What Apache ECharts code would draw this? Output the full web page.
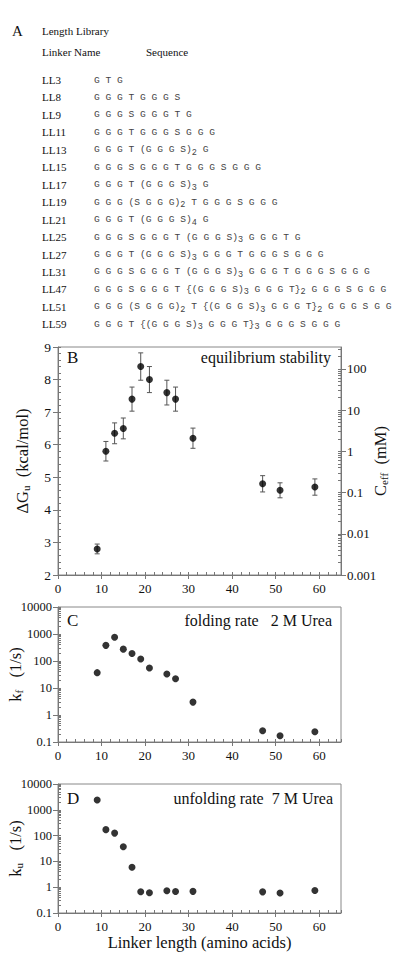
<!DOCTYPE html>
<html><head><meta charset="utf-8">
<script src="https://cdn.jsdelivr.net/npm/echarts@6/dist/echarts.min.js"></script>
<style>html,body{margin:0;padding:0;background:#fff}#c{width:410px;height:960px}</style>
</head><body><div id="c"></div>
<script>
// ---------- Panel A: length library ----------
const linkerNames = ['LL3','LL8','LL9','LL11','LL13','LL15','LL17','LL19','LL21','LL25','LL27','LL31','LL47','LL51','LL59'];
const sequences = [
  'G T G',
  'G G G T G G G S',
  'G G G S G G G T G',
  'G G G T G G G S G G G',
  'G G G T (G G G S)_2 G',
  'G G G S G G G T G G G S G G G',
  'G G G T (G G G S)_3 G',
  'G G G (S G G G)_2 T G G G S G G G',
  'G G G T (G G G S)_4 G',
  'G G G S G G G T (G G G S)_3 G G G T G',
  'G G G T (G G G S)_3 G G G T G G G S G G G',
  'G G G S G G G T (G G G S)_3 G G G T G G G S G G G',
  'G G G S G G G T {(G G G S)_3 G G G T}_2 G G G S G G G',
  'G G G (S G G G)_2 T {(G G G S)_3 G G G T}_2 G G G S G G',
  'G G G T {(G G G S)_3 G G G T}_3 G G G S G G G'
];

// ---------- Panels B-D data ----------
const linkerLength = [9, 11, 13, 15, 17, 19, 21, 25, 27, 31, 47, 51, 59];
const deltaG      = [2.8, 5.8, 6.35, 6.5, 7.4, 8.4, 8.0, 7.6, 7.4, 6.2, 4.8, 4.6, 4.7];
const deltaGErr   = [0.15, 0.3, 0.32, 0.32, 0.37, 0.42, 0.4, 0.38, 0.37, 0.31, 0.25, 0.23, 0.25];
const kFold       = [37, 380, 760, 275, 190, 118, 55, 33, 22, 3.0, 0.26, 0.17, 0.24];
const kUnfold     = [2400, 170, 125, 37, 5.9, 0.67, 0.61, 0.73, 0.68, 0.69, 0.66, 0.6, 0.74];

// ---------- tick labels ----------
const xTicks = [0, 10, 20, 30, 40, 50, 60];
const dGTicks = [2, 3, 4, 5, 6, 7, 8, 9];
const ceffTicks = [0.001, 0.01, 0.1, 1, 10, 100];
const ceffLabels = ['0.001', '0.01', '0.1', '1', '10', '100'];
const rateTicks = [0.1, 1, 10, 100, 1000, 10000];
const rateLabels = ['0.1', '1', '10', '100', '1000', '10000'];

function logMinor(lo, hi) {
  const out = [];
  for (let e = Math.floor(Math.log10(lo)); e <= Math.ceil(Math.log10(hi)); e++) {
    for (let m = 1; m <= 9; m++) {
      const v = m * Math.pow(10, e);
      if (v >= lo * 0.999 && v <= hi * 1.001) out.push(v);
    }
  }
  return out;
}
function labelFor(ticks, labels) {
  return v => {
    for (let i = 0; i < ticks.length; i++) {
      if (Math.abs(Math.log10(v) - Math.log10(ticks[i])) < 1e-6) return labels[i];
    }
    return '';
  };
}

const SERIF = 'Liberation Serif';
const AX = '#777';
const TXT = '#111';

const chart = echarts.init(document.getElementById('c'), null, {renderer: 'svg'});

const grids = [
  {left: 58, top: 347, width: 283, height: 228},
  {left: 58, top: 607, width: 283, height: 135},
  {left: 58, top: 784, width: 283, height: 129}
].map(g => Object.assign(g, {show: true, borderColor: '#888', borderWidth: 1, backgroundColor: 'transparent',
  containLabel: false, outerBoundsMode: 'none'}));

const subRich = {
  n: {fontFamily: SERIF, fontSize: 16.5, color: TXT},
  s: {fontFamily: SERIF, fontSize: 11, color: TXT, padding: [6, 0, 0, 0]}
};

const xAxes = [];
const yAxes = [];
for (let g = 0; g < 3; g++) {
  xAxes.push({
    type: 'value', gridIndex: g, min: 0, max: 65, interval: 10, position: 'bottom',
    axisLine: {onZero: false, lineStyle: {color: AX}},
    axisTick: {show: true, inside: false, length: 4, customValues: xTicks, lineStyle: {color: AX}},
    axisLabel: {customValues: xTicks, fontFamily: SERIF, fontSize: 13, color: TXT, margin: 7},
    splitLine: {show: false},
    name: g === 2 ? 'Linker length (amino acids)' : '',
    nameLocation: 'middle', nameGap: 21, nameMoveOverlap: false,
    nameTextStyle: {fontFamily: SERIF, fontSize: 16.5, color: TXT}
  });
  xAxes.push({
    type: 'value', gridIndex: g, min: 0, max: 65, interval: 2, position: 'bottom',
    axisLine: {show: false, onZero: false},
    axisTick: {show: true, inside: true, length: 3, lineStyle: {color: AX}},
    axisLabel: {show: false}, splitLine: {show: false}
  });
}

// Panel B left (linear)
yAxes.push({
  type: 'value', gridIndex: 0, min: 2, max: 9, interval: 1, position: 'left',
  axisLine: {show: true, onZero: false, lineStyle: {color: AX}},
  axisTick: {show: true, inside: false, length: 5, lineStyle: {color: AX}},
  axisLabel: {fontFamily: SERIF, fontSize: 13.5, color: TXT, margin: 7},
  splitLine: {show: false},
  name: '{n|ΔG}{s|u}{n|  (kcal/mol)}', nameLocation: 'middle', nameRotate: 90, nameGap: 27,
  nameTextStyle: {rich: subRich}
});
yAxes.push({
  type: 'value', gridIndex: 0, min: 2, max: 9, interval: 0.2, position: 'left',
  axisLine: {show: false, onZero: false},
  axisTick: {show: true, inside: true, length: 3, lineStyle: {color: AX}},
  axisLabel: {show: false}, splitLine: {show: false}
});
// Panel B right (log C_eff)
const ceffMin = 0.001, ceffMax = 340;
yAxes.push({
  type: 'log', logBase: 10, gridIndex: 0, min: ceffMin, max: ceffMax, position: 'right',
  axisLine: {show: true, onZero: false, lineStyle: {color: AX}},
  axisTick: {show: true, inside: false, length: 5, customValues: ceffTicks, lineStyle: {color: AX}},
  axisLabel: {customValues: ceffTicks, formatter: labelFor(ceffTicks, ceffLabels), fontFamily: SERIF, fontSize: 13, color: TXT, margin: 6},
  splitLine: {show: false},
  name: '{n|C}{s|eff}{n|  (mM)}', nameLocation: 'middle', nameRotate: 90, nameGap: 31, nameMoveOverlap: false,
  nameTextStyle: {rich: subRich}
});
yAxes.push({
  type: 'log', logBase: 10, gridIndex: 0, min: ceffMin, max: ceffMax, position: 'right',
  axisLine: {show: false, onZero: false},
  axisTick: {show: true, inside: true, length: 3, customValues: logMinor(ceffMin, ceffMax), lineStyle: {color: AX}},
  axisLabel: {show: false}, splitLine: {show: false}
});
// Panels C, D (log rates)
const rateNames = ['{n|k}{s|f}{n|   (1/s)}', '{n|k}{s|u}{n|   (1/s)}'];
for (let i = 0; i < 2; i++) {
  const g = i + 1;
  yAxes.push({
    type: 'log', logBase: 10, gridIndex: g, min: 0.1, max: 10000, position: 'left',
    axisLine: {show: true, onZero: false, lineStyle: {color: AX}},
    axisTick: {show: true, inside: false, length: 5, customValues: rateTicks, lineStyle: {color: AX}},
    axisLabel: {customValues: rateTicks, formatter: labelFor(rateTicks, rateLabels), fontFamily: SERIF, fontSize: 12.5, color: TXT, margin: 6},
    splitLine: {show: false},
    name: rateNames[i], nameLocation: 'middle', nameRotate: 90, nameGap: 34, nameMoveOverlap: false,
    nameTextStyle: {rich: subRich}
  });
  yAxes.push({
    type: 'log', logBase: 10, gridIndex: g, min: 0.1, max: 10000, position: 'left',
    axisLine: {show: false, onZero: false},
    axisTick: {show: true, inside: true, length: 3, customValues: logMinor(0.1, 10000), lineStyle: {color: AX}},
    axisLabel: {show: false}, splitLine: {show: false}
  });
}

const errData = linkerLength.map((x, i) => [x, deltaG[i] - deltaGErr[i], deltaG[i] + deltaGErr[i]]);

const series = [
  {
    type: 'custom', xAxisIndex: 0, yAxisIndex: 0, data: errData,
    encode: {x: 0, y: [1, 2]}, z: 2,
    renderItem: (params, api) => {
      const x = api.value(0);
      const p1 = api.coord([x, api.value(1)]);
      const p2 = api.coord([x, api.value(2)]);
      const w = 2.5;
      const st = {stroke: '#555', lineWidth: 1};
      return {type: 'group', children: [
        {type: 'line', shape: {x1: p1[0], y1: p1[1], x2: p2[0], y2: p2[1]}, style: st},
        {type: 'line', shape: {x1: p1[0] - w, y1: p1[1], x2: p1[0] + w, y2: p1[1]}, style: st},
        {type: 'line', shape: {x1: p2[0] - w, y1: p2[1], x2: p2[0] + w, y2: p2[1]}, style: st}
      ]};
    }
  },
  {type: 'scatter', xAxisIndex: 0, yAxisIndex: 0, symbolSize: 7, itemStyle: {color: '#000'}, z: 3,
   data: linkerLength.map((x, i) => [x, deltaG[i]])},
  {type: 'scatter', xAxisIndex: 2, yAxisIndex: 4, symbolSize: 7, itemStyle: {color: '#000'}, z: 3,
   data: linkerLength.map((x, i) => [x, kFold[i]])},
  {type: 'scatter', xAxisIndex: 4, yAxisIndex: 6, symbolSize: 7, itemStyle: {color: '#000'}, z: 3,
   data: linkerLength.map((x, i) => [x, kUnfold[i]])}
];

// ---------- graphic texts ----------
function txt(x, y, text, size, opts) {
  return {type: 'text', silent: true, style: Object.assign({
    x: x, y: y, text: text, fontFamily: SERIF, fontSize: size, fill: TXT,
    align: 'left', verticalAlign: 'middle', textAlign: 'left', textVerticalAlign: 'middle'
  }, opts || {})};
}
const graphics = [];
graphics.push(txt(12, 31, 'A', 15));
graphics.push(txt(42, 31, 'Length Library', 11));
graphics.push(txt(42, 52, 'Linker Name', 11));
graphics.push(txt(146, 52, 'Sequence', 11));
const rowTop = 80, rowStep = 17.45;
linkerNames.forEach((nm, i) => {
  const y = rowTop + i * rowStep;
  graphics.push(txt(42, y, nm, 11));
  graphics.push(txt(94, y, sequences[i].replace(/_(\d)/g, '{s|$1}'), 9.6, {
    fontFamily: 'Liberation Mono', fill: '#444',
    rich: {s: {fontFamily: 'Liberation Mono', fontSize: 8.5, fill: '#444', color: '#444', padding: [6, 0, 0, 0]}}
  }));
});
graphics.push(txt(67, 357, 'B', 17));
graphics.push(txt(331, 357, 'equilibrium stability', 16, {align: 'right', textAlign: 'right'}));
graphics.push(txt(67, 620, 'C', 17));
graphics.push(txt(332, 620, 'folding rate   2 M Urea', 16, {align: 'right', textAlign: 'right'}));
graphics.push(txt(67, 798, 'D', 17));
graphics.push(txt(333, 798, 'unfolding rate  7 M Urea', 16, {align: 'right', textAlign: 'right'}));

chart.setOption({
  backgroundColor: '#fff',
  animation: false,
  grid: grids,
  xAxis: xAxes,
  yAxis: yAxes,
  series: series,
  graphic: graphics
});
</script></body></html>
